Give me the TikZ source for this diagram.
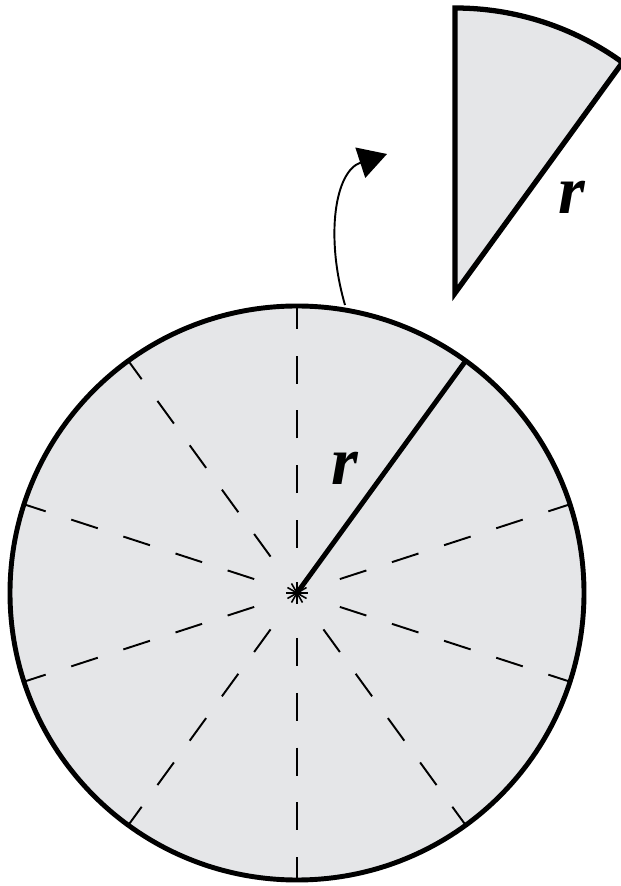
\documentclass[tikz,border=0pt]{standalone}
\usepackage{fontspec}
\setmainfont{Liberation Serif}
\usetikzlibrary{arrows.meta, calc}
\definecolor{diskgray}{RGB}{229, 230, 232}

\begin{document}
\begin{tikzpicture}[x=0.02cm, y=0.02cm, >=Triangle,
    disk/.style={draw, line width=2.8pt, fill=diskgray},
    spoke/.style={line width=1.1pt, dash pattern=on 15.9pt off 15.3pt},
    slice/.style={draw, line width=3pt, line join=miter, fill=diskgray},
    lbl/.style={font=\fontsize{39}{41}\selectfont\bfseries\itshape, inner sep=0pt}]
  \useasboundingbox (0,0) rectangle (621,886);

  \coordinate (o) at (297, 293);
  \fill[diskgray] (o) circle[radius=287];

  % dashed division lines, every 36 degrees
  \foreach \a in {90, 126, 162, 198, 234, 270, 306, 342, 18}
    \draw[spoke] ($(o)+(\a:45)$) -- ($(o)+(\a:287)$);

  % centre mark
  \foreach \a in {0, 30, ..., 330}
    \draw[line width=0.9pt] (o) -- ++(\a:11);

  \draw[disk, fill=none] (o) circle[radius=287];

  % solid radius
  \coordinate (rim) at ($(o)+(54:287)$);
  \draw[line width=2.8pt] (o) -- (rim);
  \node[lbl] (rlab) at (345, 418) {r};

  % lifted slice
  \coordinate (apex) at (455, 593);
  \filldraw[slice] (apex) -- ++(90:285) arc[start angle=90, end angle=54, radius=285] -- cycle;
  \node[lbl] (rslice) at (572, 689) {r};

  % arrow
  \coordinate (lift) at (345, 581);
  \coordinate (tip) at (387, 732);
  \draw[->, line width=1.1pt, >={Triangle[length=16pt, width=18pt]}]
    (lift) .. controls (325, 650) and (335, 715) .. (tip);
\end{tikzpicture}
\end{document}
